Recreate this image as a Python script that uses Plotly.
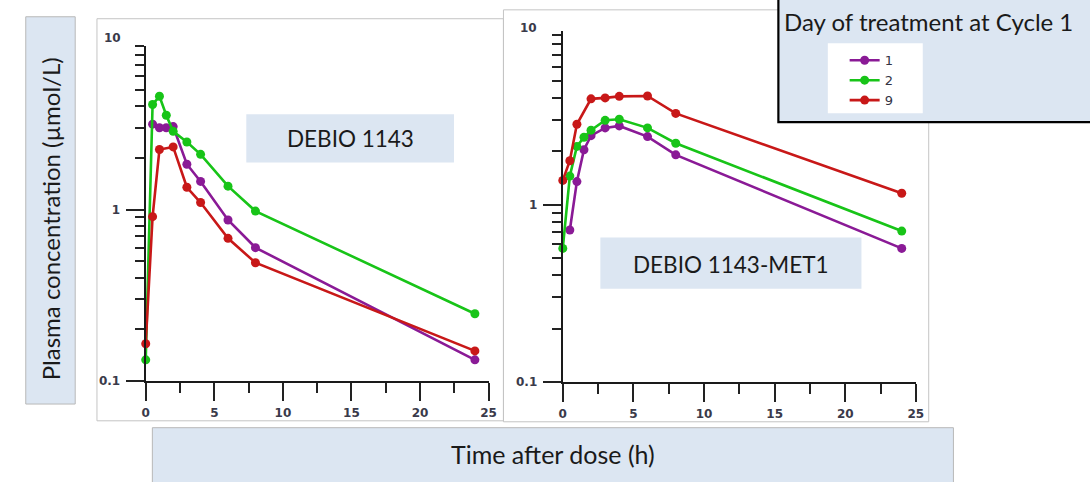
import plotly.graph_objects as go

W, H = 1090, 482

# ---------------- data ----------------
days = ["1", "2", "9"]
colors = {"1": "#8a1a96", "2": "#18c418", "9": "#c81818"}

# DEBIO 1143 (left panel)
parent_time_d1 = [0.5, 1, 1.5, 2, 3, 4, 6, 8, 24]
parent_conc_d1 = [3.15, 3.0, 3.0, 3.05, 1.84, 1.46, 0.87, 0.60, 0.133]
parent_time_d2 = [0, 0.5, 1, 1.5, 2, 3, 4, 6, 8, 24]
parent_conc_d2 = [0.133, 4.1, 4.58, 3.55, 2.86, 2.48, 2.10, 1.37, 0.98, 0.247]
parent_time_d9 = [0, 0.5, 1, 2, 3, 4, 6, 8, 24]
parent_conc_d9 = [0.165, 0.91, 2.24, 2.32, 1.35, 1.10, 0.68, 0.49, 0.150]

# DEBIO 1143-MET1 (right panel)
met_time_d1 = [0.5, 1, 1.5, 2, 3, 4, 6, 8, 24]
met_conc_d1 = [0.72, 1.35, 2.04, 2.45, 2.71, 2.78, 2.42, 1.91, 0.567]
met_time_d2 = [0, 0.5, 1, 1.5, 2, 3, 4, 6, 8, 24]
met_conc_d2 = [0.567, 1.45, 2.13, 2.40, 2.63, 2.99, 3.03, 2.71, 2.22, 0.71]
met_time_d9 = [0, 0.5, 1, 2, 3, 4, 6, 8, 24]
met_conc_d9 = [1.37, 1.77, 2.84, 3.95, 4.0, 4.08, 4.1, 3.27, 1.16]

x_ticks = [0, 5, 10, 15, 20, 25]
x_minor = [2.5, 7.5, 12.5, 17.5, 22.5]
y_ticks = [0.1, 1]
y_ticklabels = ["0.1", "1"]
y_minor = [0.2, 0.3, 0.4, 0.5, 0.6, 0.7, 0.8, 0.9, 2, 3, 4, 5, 6, 7, 8, 9]

y_title = "Plasma concentration (µmol/L)"
x_title = "Time after dose (h)"
legend_title = "Day of treatment at Cycle 1"
panel_labels = ["DEBIO 1143", "DEBIO 1143-MET1"]

# ---------------- helpers ----------------
def fx(p):
    return p / W

def fy(p):
    return 1 - p / H

FONT = "Lato"
TXT = "#1a1a1a"
TICKFONT = dict(family="DejaVu Sans", size=12, color="#3a3a4a", weight="bold")

fig = go.Figure()

left = [(parent_time_d1, parent_conc_d1), (parent_time_d2, parent_conc_d2), (parent_time_d9, parent_conc_d9)]
right = [(met_time_d1, met_conc_d1), (met_time_d2, met_conc_d2), (met_time_d9, met_conc_d9)]

for d, (t, c) in zip(days, left):
    fig.add_trace(go.Scatter(
        x=t, y=c, mode="lines+markers", name=d, legendgroup=d, showlegend=True,
        line=dict(color=colors[d], width=2.6), marker=dict(color=colors[d], size=9),
        cliponaxis=False, xaxis="x", yaxis="y"))
for d, (t, c) in zip(days, right):
    fig.add_trace(go.Scatter(
        x=t, y=c, mode="lines+markers", name=d, legendgroup=d, showlegend=False,
        line=dict(color=colors[d], width=2.6), marker=dict(color=colors[d], size=9),
        cliponaxis=False, xaxis="x2", yaxis="y2"))

# panel geometry (pixels)
L = dict(x0=143.3, x25=490.0, y01=386.7, dec=174.0, top=46.5)
R = dict(x0=565.0, x25=922.0, y01=387.7, dec=180.0, top=31.0)

def xaxis(g, anchor):
    return dict(
        domain=[fx(g["x0"]), fx(g["x25"])], range=[0, 25], anchor=anchor,
        tickvals=x_ticks, ticks="outside", ticklen=18, tickwidth=1.6, tickcolor="#222",
        showline=True, linecolor="#1a1a1a", linewidth=2.2, showgrid=False, zeroline=False,
        tickfont=TICKFONT, ticklabelstandoff=1,
        minor=dict(tickvals=x_minor, ticks="outside", ticklen=10, tickwidth=1.6, tickcolor="#222"),
    )

def yaxis(g, anchor):
    rtop = -1 + (g["y01"] - g["top"]) / g["dec"]
    return dict(
        type="log", domain=[fy(g["y01"]), fy(g["top"])], range=[-1, rtop], anchor=anchor,
        tickvals=y_ticks, ticktext=y_ticklabels, ticks="outside", ticklen=18, tickwidth=1.6,
        tickcolor="#222", showline=True, linecolor="#1a1a1a", linewidth=2.2, showgrid=False,
        zeroline=False, tickfont=TICKFONT, ticklabelstandoff=3,
        minor=dict(tickvals=y_minor, ticks="outside", ticklen=9, tickwidth=1.6, tickcolor="#222"),
    )

shapes = []
def rect(x0, y0, x1, y1, fill="rgba(0,0,0,0)", line_color="rgba(0,0,0,0)", lw=1, layer="below"):
    shapes.append(dict(type="rect", xref="paper", yref="paper",
                       x0=fx(x0), x1=fx(x1), y0=fy(y1), y1=fy(y0),
                       fillcolor=fill, line=dict(color=line_color, width=lw), layer=layer))

BLUE = "#dce6f2"
# panel frames
rect(94, 19, 505, 427, line_color="#c4c4c4")
rect(505, 10, 935, 428, line_color="#c4c4c4")
# y title box, x title box
rect(22, 17, 72, 410, fill=BLUE, line_color="#b8b8b8")
rect(150, 434, 960, 490, fill=BLUE, line_color="#b8b8b8")
# panel label boxes
rect(245, 116, 455, 165, fill=BLUE)
rect(603, 241, 867, 293, fill=BLUE)
# legend box
rect(783, -5, 1100, 124, fill=BLUE, line_color="#000", lw=2.2, layer="above")
rect(833, 44, 929, 115, fill="#ffffff", layer="above")

def label(text, x, y, size, angle=0):
    return dict(text=text, x=fx(x), y=fy(y), xref="paper", yref="paper", textangle=angle,
                xanchor="center", yanchor="middle", showarrow=False,
                font=dict(family=FONT, size=size, color=TXT))

annotations = [
    label(y_title, 47, 222, 24, -90),
    label(x_title, 555, 461, 25),
    label(panel_labels[0], 350, 141, 22.5),
    label(panel_labels[1], 735, 268, 22.5),
    label(legend_title, 935, 22, 24),
    # "10" labels at the top of the log axes
    dict(text="10", x=fx(120), y=fy(39), xref="paper", yref="paper", xanchor="right",
         yanchor="middle", showarrow=False, font=TICKFONT),
    dict(text="10", x=fx(541), y=fy(28), xref="paper", yref="paper", xanchor="right",
         yanchor="middle", showarrow=False, font=TICKFONT),
]

fig.update_layout(
    width=W, height=H, margin=dict(l=0, r=0, t=0, b=0),
    paper_bgcolor="white", plot_bgcolor="rgba(0,0,0,0)",
    xaxis=xaxis(L, "y"), yaxis=yaxis(L, "x"),
    xaxis2=xaxis(R, "y2"), yaxis2=yaxis(R, "x2"),
    shapes=shapes, annotations=annotations,
    legend=dict(x=fx(850), y=fy(46), xanchor="left", yanchor="top", bgcolor="rgba(0,0,0,0)",
                font=dict(family="DejaVu Sans", size=13, color="#333344"),
                itemwidth=30, tracegroupgap=3, traceorder="normal"),
    showlegend=True,
)

fig.write_html("out.html", config={"displayModeBar": False},
               post_script="document.body.style.margin='0px';")
